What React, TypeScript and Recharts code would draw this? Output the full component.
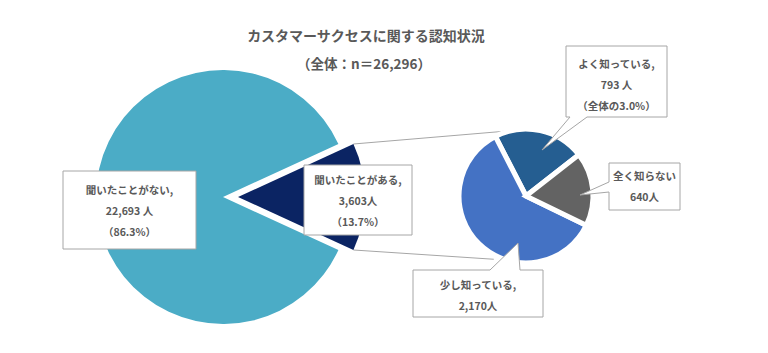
import React from "react";
import { PieChart, Pie, Cell } from "recharts";

// 全体の認知状況
const awarenessNames = ["聞いたことがある", "聞いたことがない"];
const awarenessValues = [3603, 22693];

// 「聞いたことがある」の内訳
const detailNames = ["よく知っている", "少し知っている", "全く知らない"];
const detailValues = [793, 2170, 640];

const titleText = "カスタマーサクセスに関する認知状況";
const subtitleText = "（全体：n＝26,296）";

const W = 768;
const H = 353;
const FONT = '"Noto Sans CJK JP", "Noto Sans", sans-serif';
const TEXT_COLOR = "#595959";
const BOX_STROKE = "#A6A6A6";

const awarenessColors = ["#0B2463", "#4BACC6"];
const detailColors = ["#255E91", "#4472C4", "#636363"];

// 円の位置
const BIG_CX = 223;
const BIG_CY = 197;
const BIG_R = 127;
const EXPLODE = 15;
const SMALL_CX = 526;
const SMALL_CY = 196;
const SMALL_R = 67;

const total = awarenessValues.reduce((a, b) => a + b, 0);
const heardTotal = awarenessValues[0];
const halfAngle = (heardTotal / total) * 180;

const awarenessData = awarenessNames.map((name, i) => ({ name, value: awarenessValues[i] }));
const detailData = detailNames.map((name, i) => ({ name, value: detailValues[i] }));

const pct = (v: number) => ((v / total) * 100).toFixed(1);
const fmt = (v: number) => v.toLocaleString("en-US");

const polar = (cx: number, cy: number, r: number, deg: number) => ({
  x: cx + r * Math.cos((deg * Math.PI) / 180),
  y: cy - r * Math.sin((deg * Math.PI) / 180),
});

type Callout = {
  lines: string[];
  x: number;
  y: number;
  w: number;
  h: number;
  dy?: number;
  tail?: { side: "top" | "bottom" | "left"; a: number; b: number; tx: number; ty: number };
};

const callouts: Callout[] = [
  {
    lines: [`${awarenessNames[1]},`, `${fmt(awarenessValues[1])} 人`, `（${pct(awarenessValues[1])}%）`],
    x: 63, y: 171, w: 133, h: 78,
  },
  {
    lines: [`${awarenessNames[0]},`, `${fmt(awarenessValues[0])}人`, `（${pct(awarenessValues[0])}%）`],
    x: 304, y: 165, w: 108, h: 70,
  },
  {
    lines: [`${detailNames[0]},`, `${fmt(detailValues[0])} 人`, `（全体の${pct(detailValues[0])}%）`],
    x: 566, y: 46, w: 101, h: 71, dy: 3,
    tail: { side: "bottom", a: 570, b: 587, tx: 542, ty: 150 },
  },
  {
    lines: [detailNames[2], `${fmt(detailValues[2])}人`],
    x: 609, y: 163, w: 71, h: 47, dy: -1,
    tail: { side: "left", a: 182, b: 192, tx: 580, ty: 195 },
  },
  {
    lines: [`${detailNames[1]},`, `${fmt(detailValues[1])}人`],
    x: 413, y: 270, w: 130, h: 47, dy: 1,
    tail: { side: "top", a: 490, b: 520, tx: 518, ty: 243 },
  },
];

function calloutPath(c: Callout) {
  const { x, y, w, h, tail } = c;
  const r = x + w;
  const btm = y + h;
  if (!tail) return `M${x},${y}H${r}V${btm}H${x}Z`;
  const { side, a, b, tx, ty } = tail;
  if (side === "top") {
    return `M${x},${y}H${a}L${tx},${ty}L${b},${y}H${r}V${btm}H${x}Z`;
  }
  if (side === "bottom") {
    return `M${x},${y}H${r}V${btm}H${b}L${tx},${ty}L${a},${btm}H${x}Z`;
  }
  return `M${x},${y}H${r}V${btm}H${x}V${b}L${tx},${ty}L${x},${a}Z`;
}

function CalloutBox({ c }: { c: Callout }) {
  const spacing = 21;
  const mid = c.y + c.h / 2 + (c.dy ?? 0);
  const first = mid - (spacing * (c.lines.length - 1)) / 2;
  return (
    <g>
      <path d={calloutPath(c)} fill="#fff" stroke={BOX_STROKE} strokeWidth={1} />
      {c.lines.map((line, i) => (
        <text
          key={i}
          x={c.x + c.w / 2}
          y={first + spacing * i}
          textAnchor="middle"
          dominantBaseline="central"
          fontSize={10.5}
          fontWeight={700}
          fill={TEXT_COLOR}
          fontFamily={FONT}
        >
          {line}
        </text>
      ))}
    </g>
  );
}

export default function App() {
  // 「聞いたことがある」扇形の外側の角
  const topCorner = polar(BIG_CX + EXPLODE, BIG_CY, BIG_R, halfAngle);
  const bottomCorner = polar(BIG_CX + EXPLODE, BIG_CY, BIG_R, -halfAngle);
  const smallTop = polar(SMALL_CX, SMALL_CY, SMALL_R, 103);
  const smallBottom = polar(SMALL_CX, SMALL_CY, SMALL_R + 4, 243);

  return (
    <div style={{ position: "absolute", left: 0, top: 0, width: W, height: H, background: "#fff" }}>
      <svg width={W} height={H} style={{ position: "absolute", left: 0, top: 0 }}>
        <line x1={topCorner.x} y1={topCorner.y} x2={smallTop.x} y2={smallTop.y} stroke={BOX_STROKE} strokeWidth={1} />
        <line x1={bottomCorner.x} y1={bottomCorner.y} x2={smallBottom.x} y2={smallBottom.y} stroke={BOX_STROKE} strokeWidth={1} />
      </svg>
      <div style={{ position: "absolute", left: 0, top: 0 }}>
        <PieChart width={W} height={H} margin={{ top: 0, right: 0, bottom: 0, left: 0 }}>
          <Pie
            data={awarenessData}
            dataKey="value"
            nameKey="name"
            cx={BIG_CX}
            cy={BIG_CY}
            outerRadius={BIG_R}
            startAngle={halfAngle}
            endAngle={halfAngle - 360}
            isAnimationActive={false}
            labelLine={false}
          >
            {awarenessData.map((d, i) => (
              <Cell key={d.name} fill={i === 0 ? "none" : awarenessColors[i]} stroke="none" />
            ))}
          </Pie>
          <Pie
            data={awarenessData}
            dataKey="value"
            nameKey="name"
            cx={BIG_CX + EXPLODE}
            cy={BIG_CY}
            outerRadius={BIG_R}
            startAngle={halfAngle}
            endAngle={halfAngle - 360}
            isAnimationActive={false}
            labelLine={false}
          >
            {awarenessData.map((d, i) => (
              <Cell key={d.name} fill={i === 0 ? awarenessColors[i] : "none"} stroke="none" />
            ))}
          </Pie>
          <Pie
            data={detailData}
            dataKey="value"
            nameKey="name"
            cx={SMALL_CX}
            cy={SMALL_CY}
            outerRadius={SMALL_R}
            startAngle={38}
            endAngle={398}
            stroke="#fff"
            strokeWidth={5}
            isAnimationActive={false}
            labelLine={false}
          >
            {detailData.map((d, i) => (
              <Cell key={d.name} fill={detailColors[i]} />
            ))}
          </Pie>
        </PieChart>
      </div>
      <svg width={W} height={H} style={{ position: "absolute", left: 0, top: 0, pointerEvents: "none" }}>
        <text x={366} y={35} textAnchor="middle" dominantBaseline="central" fontSize={14} fontWeight={700} fill={TEXT_COLOR} fontFamily={FONT}>
          {titleText}
        </text>
        <text x={364} y={63} textAnchor="middle" dominantBaseline="central" fontSize={13.5} fontWeight={700} fill={TEXT_COLOR} fontFamily={FONT}>
          {subtitleText}
        </text>
        {callouts.map((c, i) => (
          <CalloutBox key={i} c={c} />
        ))}
      </svg>
    </div>
  );
}
